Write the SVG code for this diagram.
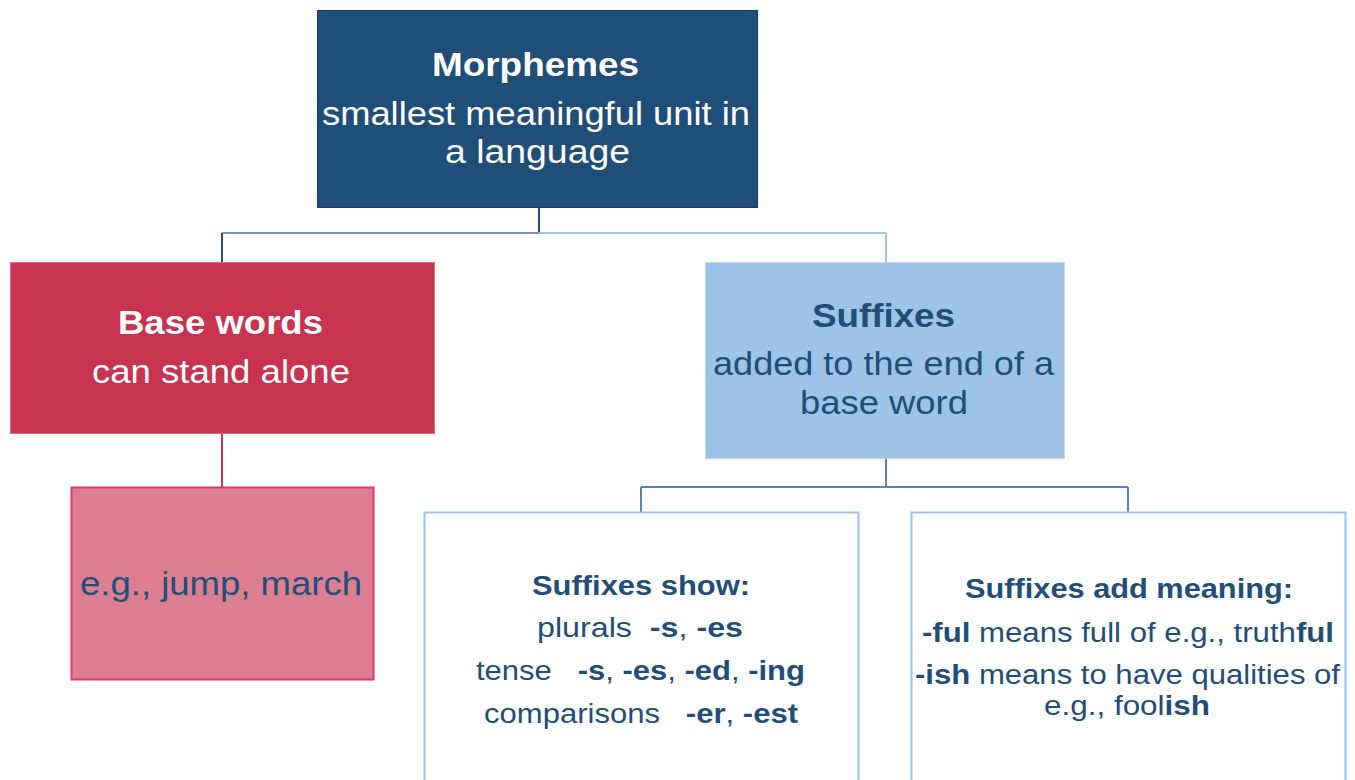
<svg xmlns="http://www.w3.org/2000/svg" width="1355" height="780" viewBox="0 0 1355 780">
<style>
text{font-family:"Liberation Sans",Arial,sans-serif;text-anchor:middle}
.w{fill:#ffffff}
.d{fill:#1F4E79}
.b{font-weight:bold}
.L{font-size:33px}
.S{font-size:27px}
</style>
<rect width="1355" height="780" fill="#ffffff"/>
<g id="connectors" fill="none" stroke-width="2">
<path d="M539 208V233" stroke="#2F4A7A"/>
<path d="M222 233H539" stroke="#7F8FB0"/>
<path d="M539 233H886" stroke="#9DC3E6"/>
<path d="M222 233V262" stroke="#2F4A7A"/>
<path d="M886 233V262" stroke="#9DC3E6"/>
<path d="M222 434V487" stroke="#C8334F"/>
<path d="M886 459V487M641 487H1128M641 487V512M1128 487V512" stroke="#5B7FC0"/>
</g>
<g id="morphemes">
<rect x="317.5" y="10.5" width="440" height="197" fill="#1F4E79" stroke="#1A3A66"/>
<text x="535.5" y="76" class="L w b" textLength="207" lengthAdjust="spacingAndGlyphs">Morphemes</text>
<text x="536" y="125" class="L w" textLength="428" lengthAdjust="spacingAndGlyphs">smallest meaningful unit in</text>
<text x="537.5" y="163" class="L w" textLength="185" lengthAdjust="spacingAndGlyphs">a language</text>
</g>
<g id="base-words">
<rect x="10.5" y="262.5" width="424" height="171" fill="#C8334F" stroke="#E06A80"/>
<text x="220.5" y="334" class="L w b" textLength="205" lengthAdjust="spacingAndGlyphs">Base words</text>
<text x="221" y="383" class="L w" textLength="258" lengthAdjust="spacingAndGlyphs">can stand alone</text>
</g>
<g id="base-example">
<rect x="71.5" y="487.5" width="302" height="192" fill="#DC7F90" stroke="#E8336E" stroke-width="2"/>
<text x="221" y="595" class="L d" textLength="282" lengthAdjust="spacingAndGlyphs">e.g., jump, march</text>
</g>
<g id="suffixes">
<rect x="705.5" y="262.5" width="359" height="196" fill="#9DC3E6" stroke="#BDD7EE"/>
<text x="883.5" y="327" class="L d b" textLength="143" lengthAdjust="spacingAndGlyphs">Suffixes</text>
<text x="883.5" y="375" class="L d" textLength="341" lengthAdjust="spacingAndGlyphs">added to the end of a</text>
<text x="884" y="414" class="L d" textLength="168" lengthAdjust="spacingAndGlyphs">base word</text>
</g>
<g id="suffixes-show">
<rect x="424.5" y="512.5" width="434" height="280" fill="#ffffff" stroke="#9DC3E6" stroke-width="2"/>
<text x="641" y="595" class="S d b" textLength="218" lengthAdjust="spacingAndGlyphs">Suffixes show:</text>
<text x="640" y="637" class="S d" xml:space="preserve" textLength="206" lengthAdjust="spacingAndGlyphs">plurals  <tspan class="b">-s</tspan>, <tspan class="b">-es</tspan></text>
<text x="640.5" y="680" class="S d" xml:space="preserve" textLength="329" lengthAdjust="spacingAndGlyphs">tense   <tspan class="b">-s</tspan>, <tspan class="b">-es</tspan>, <tspan class="b">-ed</tspan>, <tspan class="b">-ing</tspan></text>
<text x="641" y="723" class="S d" xml:space="preserve" textLength="314" lengthAdjust="spacingAndGlyphs">comparisons   <tspan class="b">-er</tspan>, <tspan class="b">-est</tspan></text>
</g>
<g id="suffixes-meaning">
<rect x="911.5" y="512.5" width="434" height="280" fill="#ffffff" stroke="#9DC3E6" stroke-width="2"/>
<text x="1129" y="598" class="S d b" textLength="328" lengthAdjust="spacingAndGlyphs">Suffixes add meaning:</text>
<text x="1128" y="642" class="S d" textLength="412" lengthAdjust="spacingAndGlyphs"><tspan class="b">-ful</tspan> means full of e.g., truth<tspan class="b">ful</tspan></text>
<text x="1127.5" y="684" class="S d" textLength="425" lengthAdjust="spacingAndGlyphs"><tspan class="b">-ish</tspan> means to have qualities of</text>
<text x="1127" y="715" class="S d" textLength="166" lengthAdjust="spacingAndGlyphs">e.g., fool<tspan class="b">ish</tspan></text>
</g>
</svg>
